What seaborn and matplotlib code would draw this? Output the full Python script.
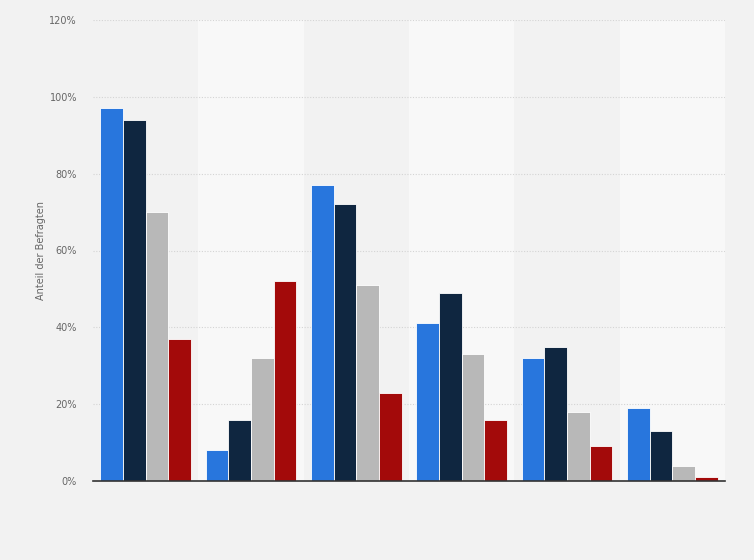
import matplotlib
matplotlib.use("Agg")
import matplotlib.pyplot as plt
from matplotlib.ticker import FuncFormatter
import seaborn as sns
import pandas as pd

categories = ["Gruppe 1", "Gruppe 2", "Gruppe 3", "Gruppe 4", "Gruppe 5", "Gruppe 6"]
series_names = ["Serie 1", "Serie 2", "Serie 3", "Serie 4"]
serie_1 = [97, 8, 77, 41, 32, 19]
serie_2 = [94, 16, 72, 49, 35, 13]
serie_3 = [70, 32, 51, 33, 18, 4]
serie_4 = [37, 52, 23, 16, 9, 1]
colors = ["#2876dd", "#0f2640", "#b8b8b8", "#a30a0a"]
y_ticks = [0, 20, 40, 60, 80, 100, 120]

rows = []
for name, vals in zip(series_names, [serie_1, serie_2, serie_3, serie_4]):
    for c, v in zip(categories, vals):
        rows.append({"Kategorie": c, "Serie": name, "Wert": v})
df = pd.DataFrame(rows)

sns.set_style("white")
plt.rcParams["font.family"] = ["DejaVu Sans"]

fig = plt.figure(figsize=(7.54, 5.60), dpi=100, facecolor="#f2f2f2")
ax = fig.add_axes([93 / 754, 79 / 560, 632 / 754, 461 / 560])
ax.set_facecolor("#f2f2f2")

for i in range(len(categories)):
    if i % 2 == 1:
        ax.axvspan(i - 0.5, i + 0.5, color="#f8f8f8", zorder=0, lw=0)

sns.barplot(data=df, x="Kategorie", y="Wert", hue="Serie", palette=colors,
            width=0.86, dodge=True, ax=ax, legend=False, saturation=1,
            edgecolor="#ffffff", linewidth=0.6, zorder=3)

ax.set_xlim(-0.5, len(categories) - 0.5)
ax.set_ylim(0, 120)
ax.set_yticks(y_ticks)
ax.yaxis.set_major_formatter(FuncFormatter(lambda v, p: f"{int(v)}%"))
ax.grid(axis="y", color="#d4d4d4", linestyle=(0, (1, 1.5)), linewidth=0.8, zorder=1)
ax.set_axisbelow(True)
ax.set_xticks([])
ax.set_xlabel("")
ax.set_ylabel("Anteil der Befragten", fontsize=7, color="#666666")
ax.yaxis.set_label_coords(-47 / 632, 0.5)
ax.tick_params(axis="y", length=0, pad=11.5, labelsize=7, labelcolor="#666666")
for s in ["top", "right", "left"]:
    ax.spines[s].set_visible(False)
ax.spines["bottom"].set_color("#333333")
ax.spines["bottom"].set_linewidth(1.2)
ax.spines["bottom"].set_zorder(5)

fig.savefig("out.png", dpi=100, facecolor=fig.get_facecolor())
